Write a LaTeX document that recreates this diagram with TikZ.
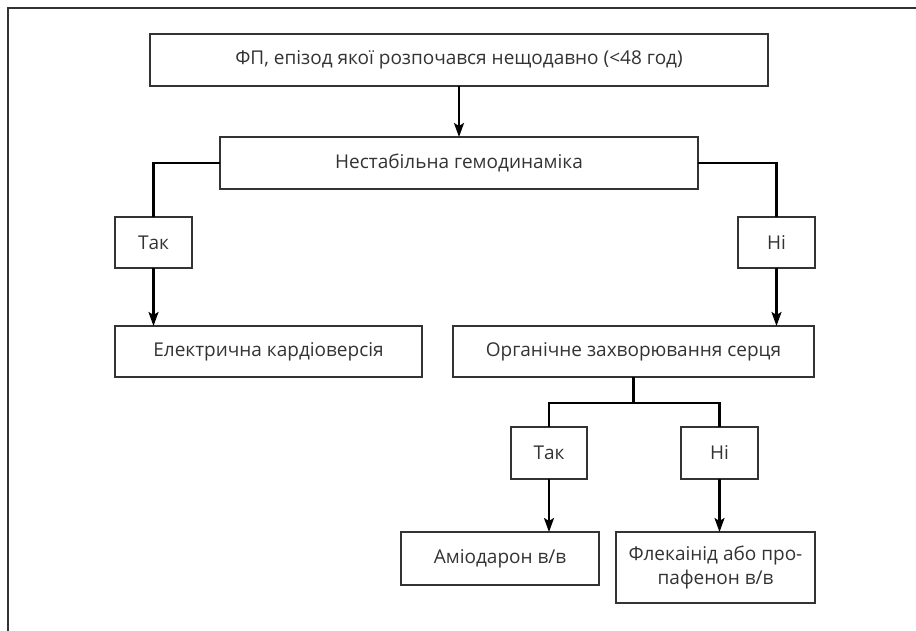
\documentclass[tikz,border=0pt]{standalone}
\usepackage{fontspec}
\setmainfont{Open Sans}
\usetikzlibrary{arrows.meta}
\definecolor{boxline}{HTML}{333333}
\definecolor{txt}{HTML}{333333}
\tikzset{
  box/.style={draw=boxline, line width=1.1pt, inner sep=0pt, outer sep=0pt, text=txt, font=\fontsize{19}{24}\selectfont, align=center},
  conn/.style={line width=2.2pt, black},
  arr/.style={conn, -{Stealth[length=14pt,width=10pt,inset=3pt]}},
}
\begin{document}
\begin{tikzpicture}[x=1pt,y=-1pt]
\useasboundingbox (0,0) rectangle (916,631);
\draw[boxline, line width=1.4pt] (916,8) -- (8,8) -- (8,631);
\node[box, minimum width=618pt, minimum height=52pt] (b1) at (459,60) {ФП, епізод якої розпочався нещодавно (<48 год)};
\node[box, minimum width=478pt, minimum height=52pt] (b2) at (459,163) {Нестабільна гемодинаміка};
\node[box, minimum width=77pt, minimum height=51pt] (t1) at (153.5,242.5) {Так};
\node[box, minimum width=77pt, minimum height=51pt] (n1) at (776.5,242.5) {Ні};
\node[box, minimum width=307pt, minimum height=51pt] (el) at (268.5,351.5) {Електрична кардіоверсія};
\node[box, minimum width=361pt, minimum height=51pt] (org) at (633.5,351.5) {Органічне захворювання серця};
\node[box, minimum width=76pt, minimum height=52pt] (t2) at (549,453) {Так};
\node[box, minimum width=77pt, minimum height=52pt] (n2) at (719.5,453) {Ні};
\node[box, minimum width=198pt, minimum height=53pt] (am) at (500,558.5) {Аміодарон в/в};
\node[box, minimum width=199pt, minimum height=71pt] (fl) at (715.5,567.5) {Флекаінід або про-\\пафенон в/в};
\coordinate (j) at (633.5,403);
\draw[arr] (b1.south) -- (b2.north);
\draw[conn] (b2.west) -| (t1.north);
\draw[conn] (b2.east) -| (n1.north);
\draw[arr] (t1.south) -- (t1.south |- el.north);
\draw[arr] (n1.south) -- (n1.south |- org.north);
\draw[conn] (org.south) -- (j);
\draw[conn] (j) -| (t2.north);
\draw[conn] (j) -| (n2.north);
\draw[arr] (t2.south) -- (t2.south |- am.north);
\draw[arr] (n2.south) -- (n2.south |- fl.north);
\end{tikzpicture}
\end{document}
